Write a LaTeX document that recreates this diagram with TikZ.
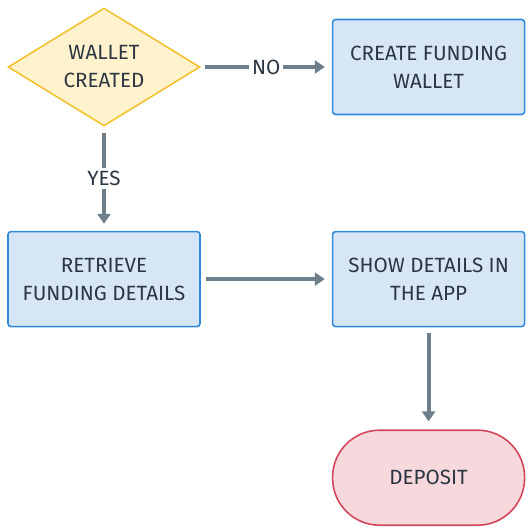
\documentclass[tikz,border=0pt]{standalone}
\usepackage{fontspec}
\setmainfont{Fira Sans}
\definecolor{inkdark}{HTML}{2B3642}
\definecolor{linegray}{HTML}{6E7F8C}
\definecolor{goldline}{HTML}{F2C230}
\definecolor{goldfill}{HTML}{FFF2CC}
\definecolor{blueline}{HTML}{2F8BDB}
\definecolor{bluefill}{HTML}{D6E6F6}
\definecolor{redline}{HTML}{D2475C}
\definecolor{redfill}{HTML}{F7D9DD}
\usetikzlibrary{arrows.meta, positioning, shapes.geometric}
\tikzset{
	txt/.style={font=\fontsize{10.3}{14}\selectfont, text=inkdark, align=center},
	flow/.style={txt, rectangle, rounded corners=1.5pt, draw=blueline, fill=bluefill, line width=0.8pt, minimum width=96pt, minimum height=47.5pt},
	decision/.style={txt, diamond, aspect=1.63, inner sep=0pt, draw=goldline, fill=goldfill, line width=0.8pt, minimum width=96pt, minimum height=59pt},
	terminal/.style={txt, rectangle, rounded corners=23.5pt, draw=redline, fill=redfill, line width=0.8pt, minimum width=96pt, minimum height=47.5pt},
	arrow/.style={-{Triangle[length=5pt, width=6.5pt]}, line width=2pt, draw=linegray},
	edgelabel/.style={txt, fill=white, inner sep=1.5pt},
}
\begin{document}
\begin{tikzpicture}[node distance=52pt and 65.5pt]
	\useasboundingbox (-52pt,33.5pt) rectangle (214pt,-232.5pt);
	\node[decision] (wallet) {WALLET\\CREATED};
	\node[flow, right=of wallet] (create) {CREATE FUNDING\\WALLET};
	\node[flow, below=of wallet] (retrieve) {RETRIEVE\\FUNDING DETAILS};
	\node[flow, right=of retrieve] (show) {SHOW DETAILS IN\\THE APP};
	\node[terminal, below=51pt of show] (deposit) {DEPOSIT};
	\draw[arrow, shorten <=2pt, shorten >=3.5pt] (wallet) -- node[edgelabel] {NO} (create);
	\draw[arrow, shorten <=3pt, shorten >=3.5pt] (wallet) -- node[edgelabel] {YES} (retrieve);
	\draw[arrow, shorten <=2.5pt, shorten >=3.5pt] (retrieve) -- (show);
	\draw[arrow, shorten <=3pt, shorten >=4pt] (show) -- (deposit);
\end{tikzpicture}
\end{document}
